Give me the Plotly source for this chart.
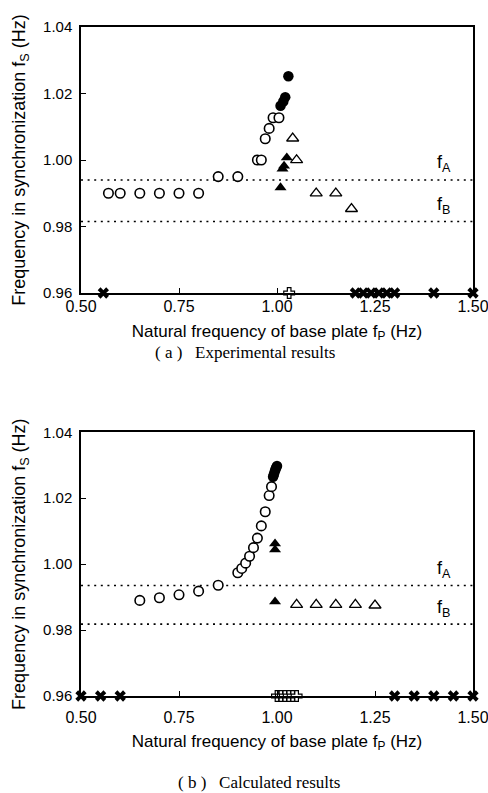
import plotly.graph_objects as go
from plotly.subplots import make_subplots

# ---------------- (a) Experimental results ----------------
a_open_circ_x = [0.57, 0.60, 0.65, 0.70, 0.75, 0.80, 0.85, 0.90, 0.95, 0.96, 0.97, 0.98, 0.99, 1.005]
a_open_circ_y = [0.990, 0.990, 0.990, 0.990, 0.990, 0.990, 0.995, 0.995, 1.000, 1.000, 1.0064, 1.0095, 1.0127, 1.0127]
a_fill_circ_x = [1.009, 1.016, 1.021, 1.029]
a_fill_circ_y = [1.0163, 1.0176, 1.0189, 1.0252]
a_fill_tri_x = [1.009, 1.014, 1.018, 1.025]
a_fill_tri_y = [0.9917, 0.9973, 0.9982, 1.0007]
a_open_tri_x = [1.04, 1.05, 1.10, 1.15, 1.19]
a_open_tri_y = [1.0065, 1.0000, 0.990, 0.990, 0.9853]
a_cross_x = [0.557, 1.20, 1.22, 1.24, 1.26, 1.28, 1.30, 1.40, 1.50]
a_plus_x = [1.031]
a_fA = 0.9940
a_fB = 0.9815

# ---------------- (b) Calculated results ----------------
b_open_circ_x = [0.65, 0.70, 0.75, 0.80, 0.85, 0.90, 0.91, 0.92, 0.93, 0.94, 0.95, 0.96, 0.97, 0.98, 0.986]
b_open_circ_y = [0.9890, 0.9898, 0.9907, 0.9918, 0.9936, 0.9974, 0.9987, 1.0003, 1.0024, 1.0050,
                 1.0079, 1.0116, 1.0159, 1.0208, 1.0235]
b_fill_circ_x = [0.990, 0.992, 0.994, 0.996, 0.998, 1.000]
b_fill_circ_y = [1.0265, 1.0272, 1.0280, 1.0287, 1.0293, 1.0298]
b_fill_tri_x = [0.995, 0.995, 0.995]
b_fill_tri_y = [1.0062, 1.0044, 0.9886]
b_open_tri_x = [1.05, 1.10, 1.15, 1.20, 1.25]
b_open_tri_y = [0.9877, 0.9877, 0.9877, 0.9877, 0.9875]
b_cross_x = [0.50, 0.55, 0.60, 1.30, 1.35, 1.40, 1.45, 1.50]
b_plus_x = [1.00, 1.01, 1.02, 1.03, 1.04, 1.05]
b_fA = 0.9935
b_fB = 0.9818

x_range = [0.50, 1.50]
y_range = [0.96, 1.04]
x_ticks = [0.50, 0.75, 1.00, 1.25, 1.50]
x_tick_text = ["0.50", "0.75", "1.00", "1.25", "1.50"]
y_ticks = [0.96, 0.98, 1.00, 1.02, 1.04]
y_tick_text = ["0.96", "0.98", "1.00", "1.02", "1.04"]
y_base = 0.96

x_title = "Natural frequency of base plate f<sub>P</sub> (Hz)"
y_title = "Frequency in synchronization f<sub>S</sub> (Hz)"
captions = ["( a )   Experimental results", "( b )   Calculated results"]

FONT = "Liberation Sans, Arial, Helvetica, sans-serif"
SERIF = "Liberation Serif, DejaVu Serif, serif"

fig = make_subplots(rows=2, cols=1)
fig.update_layout(
    yaxis=dict(domain=[0.6024, 1.0]),
    yaxis2=dict(domain=[0.0, 0.3942]),
)

def add_panel(row, oc_x, oc_y, fc_x, fc_y, ft_x, ft_y, ot_x, ot_y, cr_x, pl_x, fA, fB):
    # reference dotted lines
    for val in (fA, fB):
        fig.add_trace(go.Scatter(x=x_range, y=[val, val], mode="lines",
                                 line=dict(color="black", width=1.6, dash="2px,4.6px"),
                                 hoverinfo="skip", showlegend=False), row=row, col=1)
    common = dict(mode="markers", showlegend=False, cliponaxis=False)
    fig.add_trace(go.Scatter(x=oc_x, y=oc_y,
                             marker=dict(symbol="circle", size=9.5, color="white",
                                         line=dict(color="black", width=1.6)), **common), row=row, col=1)
    fig.add_trace(go.Scatter(x=fc_x, y=fc_y,
                             marker=dict(symbol="circle", size=10.5, color="black",
                                         line=dict(color="black", width=0)), **common), row=row, col=1)
    fig.add_trace(go.Scatter(x=ot_x, y=ot_y,
                             marker=dict(symbol="triangle-up", size=10.5, color="white",
                                         line=dict(color="black", width=1.3)), **common), row=row, col=1)
    fig.add_trace(go.Scatter(x=ft_x, y=ft_y,
                             marker=dict(symbol="triangle-up", size=10.5, color="black",
                                         line=dict(color="black", width=0)), **common), row=row, col=1)
    fig.add_trace(go.Scatter(x=cr_x, y=[y_base] * len(cr_x),
                             marker=dict(symbol="x", size=10, color="black",
                                         line=dict(color="black", width=0)), **common), row=row, col=1)
    fig.add_trace(go.Scatter(x=pl_x, y=[y_base] * len(pl_x),
                             marker=dict(symbol="cross", size=9, color="white",
                                         line=dict(color="black", width=1.2)), **common), row=row, col=1)

add_panel(1, a_open_circ_x, a_open_circ_y, a_fill_circ_x, a_fill_circ_y, a_fill_tri_x, a_fill_tri_y,
          a_open_tri_x, a_open_tri_y, a_cross_x, a_plus_x, a_fA, a_fB)
add_panel(2, b_open_circ_x, b_open_circ_y, b_fill_circ_x, b_fill_circ_y, b_fill_tri_x, b_fill_tri_y,
          b_open_tri_x, b_open_tri_y, b_cross_x, b_plus_x, b_fA, b_fB)

axis_common = dict(showline=True, linecolor="black", linewidth=1.5, mirror=True,
                   ticks="inside", ticklen=5, tickwidth=1, tickcolor="black",
                   showgrid=False, zeroline=False, ticklabeloverflow="allow", automargin=False)
for r, standoff, tstand in ((1, -2, 11), (2, 6, 10)):
    fig.update_xaxes(range=x_range, tickvals=x_ticks, ticktext=x_tick_text,
                     tickfont=dict(family=FONT, size=16, color="black"),
                     title=dict(text=x_title, font=dict(family=FONT, size=17, color="black"), standoff=tstand),
                     ticklabelstandoff=standoff, row=r, col=1, **axis_common)
    fig.update_yaxes(range=y_range, tickvals=y_ticks, ticktext=y_tick_text,
                     tickfont=dict(family=FONT, size=15, color="black"),
                     title=dict(text=y_title, font=dict(family=FONT, size=18, color="black"), standoff=13),
                     ticklabelstandoff=4, row=r, col=1, **axis_common)

# f_A / f_B labels
for xref, yref, fA, fB in (("x", "y", a_fA, a_fB), ("x2", "y2", b_fA, b_fB)):
    for val, lab in ((fA, "f<sub>A</sub>"), (fB, "f<sub>B</sub>")):
        fig.add_annotation(x=1.404, y=val + 0.0048, xref=xref, yref=yref, text=lab,
                           showarrow=False, xanchor="left", yanchor="middle",
                           font=dict(family=FONT, size=18, color="black"))

# captions
fig.add_annotation(x=(245 - 81) / 392, y=(696 - 352) / 669, xref="paper", yref="paper",
                   text=captions[0], showarrow=False, xanchor="center", yanchor="middle",
                   font=dict(family=SERIF, size=17, color="black"))
fig.add_annotation(x=(259 - 81) / 392, y=(696 - 782) / 669, xref="paper", yref="paper",
                   text=captions[1], showarrow=False, xanchor="center", yanchor="middle",
                   font=dict(family=SERIF, size=17, color="black"))

fig.update_layout(width=488, height=793, margin=dict(l=81, r=15, t=27, b=97, autoexpand=False),
                  paper_bgcolor="white", plot_bgcolor="white", showlegend=False)

fig.write_html("out.html", config={"displayModeBar": False},
               post_script="document.body.style.margin='0';document.body.style.overflow='hidden';")
